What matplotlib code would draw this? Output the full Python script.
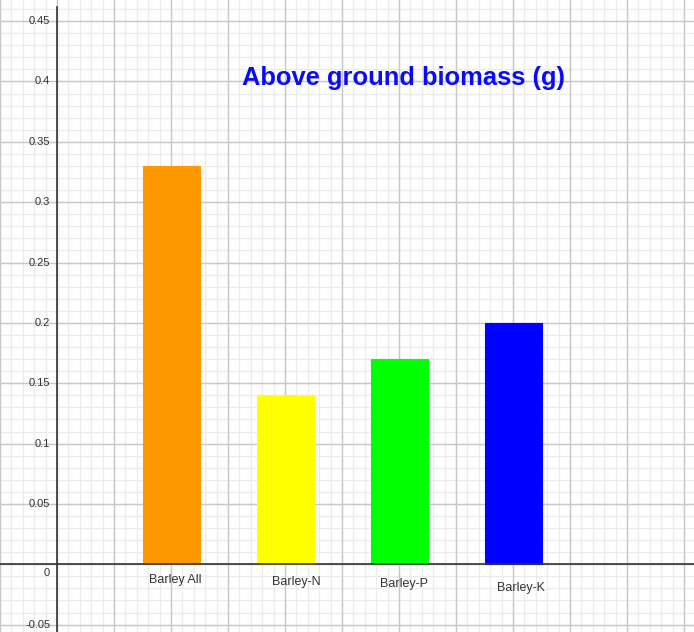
import numpy as np
import matplotlib.pyplot as plt

categories = ["Barley All", "Barley-N", "Barley-P", "Barley-K"]
biomass = [0.33, 0.14, 0.17, 0.20]
bar_x = [2, 4, 6, 8]
colors = ["#ff9900", "#ffff00", "#00ff00", "#0000ff"]
y_ticks = [-0.05, 0, 0.05, 0.1, 0.15, 0.2, 0.25, 0.3, 0.35, 0.4, 0.45]

# label placement under each bar (x center, y)
label_pos = [(2.07, -0.013), (4.19, -0.0148), (6.09, -0.0164), (8.14, -0.0198)]

XMIN, XMAX = -1.0, 11.175
YMIN, YMAX = -0.0561, 0.4675


def main():
    plt.rcParams['font.family'] = ['Liberation Sans', 'DejaVu Sans']
    fig = plt.figure(figsize=(6.94, 6.32), dpi=100)
    ax = fig.add_axes([0, 0, 1, 1])
    ax.set_xlim(XMIN, XMAX)
    ax.set_ylim(YMIN, YMAX)
    ax.axis('off')

    # minor grid
    for x in np.arange(-1, 11.3, 0.2):
        ax.axvline(x, color="#ebebeb", lw=0.9, zorder=0)
    for y in np.arange(-0.06, 0.48, 0.01):
        ax.axhline(y, color="#ebebeb", lw=0.9, zorder=0)
    # major grid
    for x in range(-1, 12):
        ax.axvline(x, color="#c8c8c8", lw=1.0, zorder=0.5)
    for y in y_ticks:
        ax.axhline(y, color="#c8c8c8", lw=1.0, zorder=0.5)

    # axes lines
    ax.axhline(0, color="#333333", lw=1.2, zorder=3)
    ax.plot([0, 0], [YMIN, 0.4615], color="#333333", lw=1.2, zorder=3)

    for v in y_ticks:
        txt = "0" if v == 0 else f"{v:g}"
        yy = v - 0.0075 if v == 0 else v
        ax.text(-0.12, yy, txt, ha='right', va='center', fontsize=8,
                color="#333333", zorder=4)

    ax.bar(bar_x, biomass, width=1.0, color=colors, edgecolor=colors,
           lw=0.8, zorder=2)

    for name, (lx, ly) in zip(categories, label_pos):
        ax.text(lx, ly, name, ha='center', va='center', fontsize=9,
                color="#333333", zorder=4)

    ax.text(6.08, 0.403, "Above ground biomass (g)", ha='center', va='center',
            fontsize=18.4, fontweight='bold', color="#0a0aff", zorder=4)

    fig.savefig("out.png", dpi=100)


if __name__ == "__main__":
    main()
